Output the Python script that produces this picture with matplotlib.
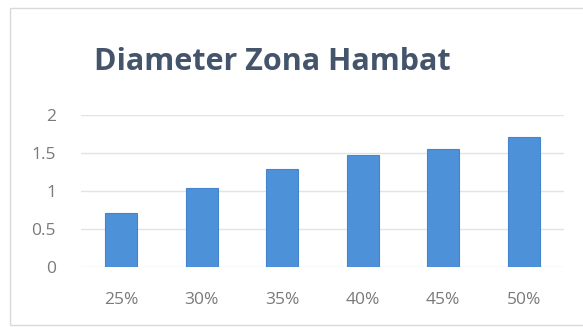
import matplotlib
matplotlib.use('Agg')
import matplotlib.pyplot as plt
from matplotlib.patches import Rectangle

categories = ['25%', '30%', '35%', '40%', '45%', '50%']
diameter = [0.71, 1.04, 1.29, 1.47, 1.55, 1.71]
y_ticks = [0, 0.5, 1, 1.5, 2]
y_labels = ['0', '0.5', '1', '1.5', '2']

plt.rcParams['font.family'] = ['Open Sans', 'DejaVu Sans']

fig = plt.figure(figsize=(5.83, 3.27), dpi=100)
fig.patch.set_facecolor('white')

# chart border
fig.patches.append(Rectangle((10 / 583, 2 / 327), 1.2, 317 / 327,
                             transform=fig.transFigure, fill=False,
                             edgecolor='#d9d9d9', linewidth=1))

ax = fig.add_axes([0.139, 0.1835, 0.8285, 0.4648])
x = range(len(categories))
ax.bar(x, diameter, width=0.4, color='#4d92d9', edgecolor='#4584cc',
       linewidth=0.8, zorder=3)

ax.set_xlim(-0.5, len(categories) - 0.5)
ax.set_ylim(0, 2)
ax.set_yticks(y_ticks)
ax.set_yticklabels(y_labels)
ax.set_xticks(list(x))
ax.set_xticklabels(categories)
ax.grid(axis='y', color='#e3e3e3', linewidth=1, zorder=0)
for s in ax.spines.values():
    s.set_visible(False)
ax.tick_params(length=0, colors='#7a7a7a', labelsize=12.5)
ax.tick_params(axis='x', pad=18)
ax.tick_params(axis='y', pad=18)

fig.text(272 / 583, 1 - 62 / 327, 'Diameter Zona Hambat', ha='center',
         va='center', fontsize=22, fontweight='bold', color='#44546a')

fig.savefig('out.png', dpi=100)
